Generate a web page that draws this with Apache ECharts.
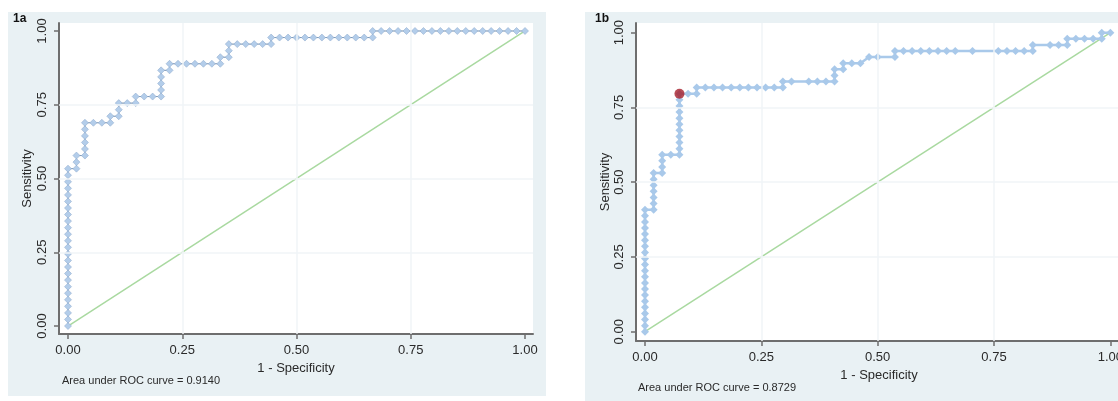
<!DOCTYPE html>
<html>
<head>
<meta charset="utf-8">
<script src="https://cdn.jsdelivr.net/npm/echarts@6/dist/echarts.min.js"></script>
<style>
html,body{margin:0;padding:0;background:#fff;}
#chart{width:1118px;height:401px;}
</style>
</head>
<body>
<div id="chart"></div>
<script>
// ---------- DATA ----------
const tickValues = [0, 0.25, 0.5, 0.75, 1];
const gridValues = [0.25, 0.5, 0.75];
const diagonal = [0, 1];
const xTitle = '1 - Specificity';
const yTitle = 'Sensitivity';

// Panel 1a: ROC points as counts (false positives of 54 negatives, true positives of 45 positives)
const N_NEG_1A = 54, N_POS_1A = 45;
const fp1a = [0,0,0,0,0,0,0,0,0,0,0,0,0,0,0,0,0,0,0,0,0,0,0,0,0,
  1,1,1, 2,2,2,2,2,2, 3,4,5, 5,6,6,6, 7,8, 8,9,10,11, 11,11,11,11, 12,12,
  13,14,15,16,17,18, 18,19,19,19, 20,21,22,23,24,
  24,25,26,27,28,29,30,31,32,33,34,35,36,
  36,37,38,39,40,41,42,43,44,45,46,47,48,49,50,51,52,53,54];
const tp1a = [0,1,2,3,4,5,6,7,8,9,10,11,12,13,14,15,16,17,18,19,20,21,22,23,24,
  24,25,26, 26,27,28,29,30,31, 31,31,31, 32,32,33,34, 34,34, 35,35,35,35, 36,37,38,39, 39,40,
  40,40,40,40,40,40, 41,41,42,43, 43,43,43,43,43,
  44,44,44,44,44,44,44,44,44,44,44,44,44,
  45,45,45,45,45,45,45,45,45,45,45,45,45,45,45,45,45,45,45];
const auc1a = 'Area under ROC curve = 0.9140';

// Panel 1b: ROC points as counts (false positives of 54 negatives, true positives of 49 positives)
const N_NEG_1B = 54, N_POS_1B = 49;
const fp1b = [0,0,0,0,0,0,0,0,0,0,0,0,0,0,0,0,0,0,0,0,0,
  1,1,1,1,1,1,1, 2,2,2,2, 3, 4,4,4,4,4,4,4,4,4,4,4, 5, 6,6,
  7,8,9,10,11,12,13,14,15,16, 16, 17,19,20,21,22, 22,22, 23,23, 24,25,
  26,27,29, 29,30,31,32,33,34,35,36,38,41,42,43,44,45,
  45,47,48,49, 49,50,51,52,53, 53,54];
const tp1b = [0,1,2,3,4,5,6,7,8,9,10,11,12,13,14,15,16,17,18,19,20,
  20,21,22,23,24,25,26, 26,27,28,29, 29, 29,30,31,32,33,34,35,36,37,38,39, 39, 39,40,
  40,40,40,40,40,40,40,40,40,40, 41, 41,41,41,41,41, 42,43, 43,44, 44,44,
  45,45,45, 46,46,46,46,46,46,46,46,46,46,46,46,46,46,
  47,47,47,47, 48,48,48,48,48, 49,49];
const cutoff1bFP = [4], cutoff1bTP = [39];
const auc1b = 'Area under ROC curve = 0.8729';

// ---------- CHART ----------
const FONT = '"Liberation Sans", Arial, sans-serif';
const toPts = (fp, tp, nn, np) => fp.map((f, i) => [f / nn, tp[i] / np]);
const roc1a = toPts(fp1a, tp1a, N_NEG_1A, N_POS_1A);
const roc1b = toPts(fp1b, tp1b, N_NEG_1B, N_POS_1B);
const cut1b = cutoff1bFP.map((f, i) => [f / N_NEG_1B, cutoff1bTP[i] / N_POS_1B]);
const diagData = diagonal.map(v => [v, v]);

function mkX(idx, min, max, gap) {
  return {
    type: 'value', gridIndex: idx, min: min, max: max,
    name: xTitle, nameLocation: 'middle', nameGap: gap,
    nameTextStyle: {fontFamily: FONT, fontSize: 13, color: '#2a2a2a'},
    axisLine: {show: true, onZero: false, lineStyle: {color: '#6e6e6e', width: 2}},
    axisTick: {show: true, length: 5, customValues: tickValues, lineStyle: {color: '#6e6e6e', width: 1.5}},
    axisLabel: {customValues: tickValues, margin: 10, fontFamily: FONT, fontSize: 13, color: '#2a2a2a',
      formatter: v => v.toFixed(2)},
    splitLine: {show: false}
  };
}
function mkY(idx, min, max, gap) {
  return {
    type: 'value', gridIndex: idx, min: min, max: max,
    name: yTitle, nameLocation: 'middle', nameGap: gap,
    nameTextStyle: {fontFamily: FONT, fontSize: 13, color: '#2a2a2a'},
    axisLine: {show: true, onZero: false, lineStyle: {color: '#6e6e6e', width: 2}},
    axisTick: {show: true, length: 5, customValues: tickValues, lineStyle: {color: '#6e6e6e', width: 1.5}},
    axisLabel: {customValues: tickValues, rotate: 90, margin: 10, fontFamily: FONT, fontSize: 13, color: '#2a2a2a',
      formatter: v => v.toFixed(2)},
    splitLine: {show: false}
  };
}
const gridMarks = {
  silent: true, symbol: 'none', animation: false,
  label: {show: false},
  lineStyle: {color: '#f1f5f7', width: 1.5, type: 'solid'},
  data: gridValues.map(v => ({xAxis: v})).concat(gridValues.map(v => ({yAxis: v})))
};

const option = {
  animation: false,
  backgroundColor: '#ffffff',
  graphic: [
    {type: 'rect', z: -10, shape: {x: 8, y: 12, width: 538, height: 384}, style: {fill: '#e9f1f4'}},
    {type: 'rect', z: -10, shape: {x: 585, y: 12, width: 540, height: 392}, style: {fill: '#e9f1f4'}},
    {type: 'text', left: 13, top: 13, style: {text: '1a', font: 'bold 12px ' + FONT, fill: '#111'}},
    {type: 'text', left: 595, top: 13, style: {text: '1b', font: 'bold 12px ' + FONT, fill: '#111'}},
    {type: 'text', left: 62, top: 375, style: {text: auc1a, font: '11px ' + FONT, fill: '#2a2a2a'}},
    {type: 'text', left: 638, top: 382, style: {text: auc1b, font: '11px ' + FONT, fill: '#2a2a2a'}}
  ],
  grid: [
    {left: 59, top: 23, width: 474, height: 311, show: true, backgroundColor: '#ffffff', borderWidth: 0,
      outerBoundsMode: 'none', containLabel: false},
    {left: 636, top: 23, width: 486, height: 318, show: true, backgroundColor: '#ffffff', borderWidth: 0,
      outerBoundsMode: 'none', containLabel: false}
  ],
  xAxis: [mkX(0, -0.0197, 1.0175, 22), mkX(1, -0.0193, 1.025, 22)],
  yAxis: [mkY(0, -0.0271, 1.0271, 25), mkY(1, -0.031, 1.0324, 24)],
  series: [
    {type: 'line', xAxisIndex: 0, yAxisIndex: 0, data: diagData, symbol: 'none', z: 2,
      lineStyle: {color: '#a9d9a0', width: 1.5}, markLine: gridMarks},
    {type: 'line', xAxisIndex: 1, yAxisIndex: 1, data: diagData, symbol: 'none', z: 2,
      lineStyle: {color: '#a9d9a0', width: 1.5}, markLine: gridMarks},
    {type: 'line', xAxisIndex: 0, yAxisIndex: 0, data: roc1a, showAllSymbol: true, z: 3,
      symbol: 'diamond', symbolSize: 7,
      itemStyle: {color: '#b3cdea', borderColor: '#93afd0', borderWidth: 0.6},
      lineStyle: {color: '#7890ab', width: 1}},
    {type: 'line', xAxisIndex: 1, yAxisIndex: 1, data: roc1b, showAllSymbol: true, z: 3,
      symbol: 'diamond', symbolSize: 8,
      itemStyle: {color: '#a9c9ea'},
      lineStyle: {color: '#a9c9ea', width: 2.5}},
    {type: 'scatter', xAxisIndex: 1, yAxisIndex: 1, data: cut1b, z: 4,
      symbol: 'circle', symbolSize: 10, itemStyle: {color: '#a51e2b'}}
  ]
};
const chart = echarts.init(document.getElementById('chart'), null, {renderer: 'canvas'});
chart.setOption(option);
</script>
</body>
</html>
